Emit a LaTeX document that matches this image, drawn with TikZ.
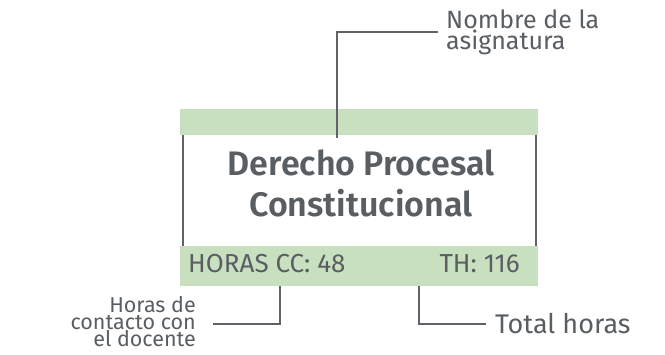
\documentclass[tikz,border=0pt]{standalone}
\usepackage{fontspec}
\setmainfont{Fira Sans}
\newfontfamily\titlefont{Fira Sans SemiBold}
\definecolor{txt}{HTML}{595E62}
\definecolor{barg}{HTML}{C9E0C0}
\definecolor{ln}{HTML}{5F6367}
\tikzset{
  bar/.style={fill=barg, draw=none, inner sep=0pt, anchor=north west, minimum width=358pt},
  conn/.style={draw=ln, line width=2.6pt},
  lbl/.style={text=txt, inner sep=0pt},
}
\begin{document}
\begin{tikzpicture}[x=1pt,y=-1pt]
\useasboundingbox (0,0) rectangle (665,355);
% bars
\node[bar, minimum height=26pt] (topbar) at (180,109) {};
\node[bar, minimum height=40pt] (botbar) at (180,246) {};
% box sides
\coordinate (ltop) at (183,135);
\coordinate (lbot) at (183,246);
\coordinate (rtop) at (536,135);
\coordinate (rbot) at (536,246);
\draw[conn] (ltop) -- (lbot);
\draw[conn] (rtop) -- (rbot);
% title
\node[lbl, align=center, font=\fontsize{34}{41}\titlefont] (title) at (361,183) {Derecho Procesal\\Constitucional};
% bottom bar texts
\node[lbl, anchor=base west, font=\fontsize{26}{28}\selectfont] (hcc) at (188,273) {HORAS CC: 48};
\node[lbl, anchor=base east, font=\fontsize{26}{28}\selectfont] (th) at (520,273) {TH: 116};
% labels
\node[lbl, anchor=west, align=left, font=\fontsize{25}{19}\selectfont] (nombre) at (446,32) {Nombre de la\\asignatura};
\node[lbl, anchor=east, align=right, font=\fontsize{21.5}{17}\selectfont] (horas) at (196,322) {Horas de\\contacto con\\el docente};
\node[lbl, anchor=west, font=\fontsize{27}{30}\selectfont] (total) at (495,324) {Total horas};
% connectors
\coordinate (n1) at (438,32);
\coordinate (n2) at (337,32);
\coordinate (n3) at (337,138);
\draw[conn] (n1) -- (n2) -- (n3);
\coordinate (h1) at (213,324);
\coordinate (h2) at (280,324);
\draw[conn] (h1) -- (h2) -- (h2 |- botbar.south);
\coordinate (t1) at (486,324);
\coordinate (t2) at (419,324);
\draw[conn] (t1) -- (t2) -- (t2 |- botbar.south);
\end{tikzpicture}
\end{document}
